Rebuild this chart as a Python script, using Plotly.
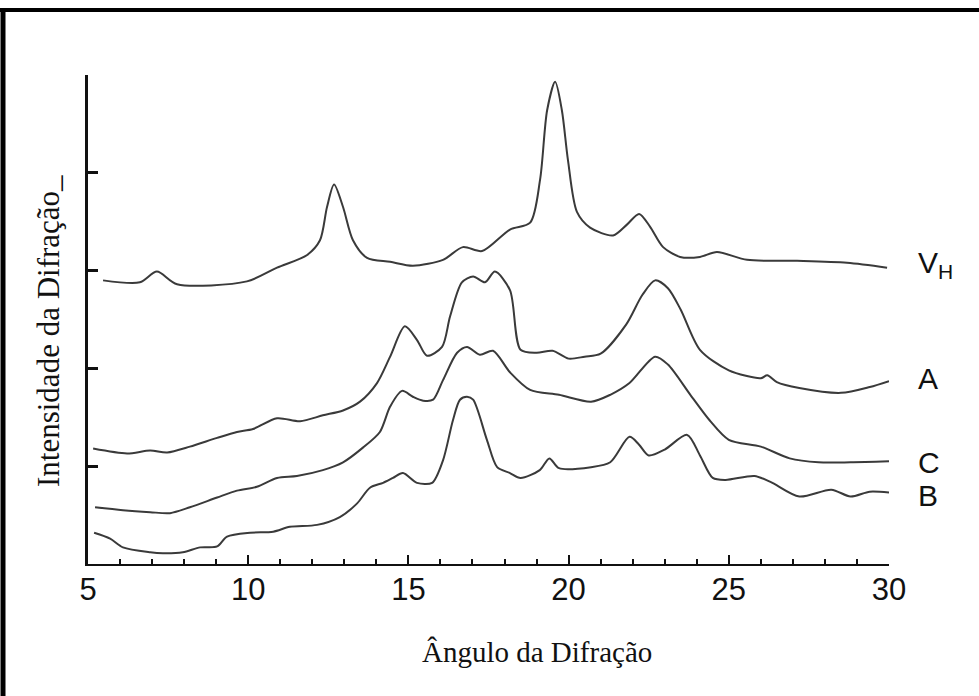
import plotly.graph_objects as go

# ---- data ----
vh_x = [5.47, 6.62, 7.15, 7.78, 9.96, 10.9, 11.84, 12.24, 12.46, 12.68, 12.96, 13.27, 13.71, 14.43, 15.14,
        16.08, 16.70, 17.30, 18.17, 18.80, 19.11, 19.33, 19.58, 19.79, 19.98, 20.26, 20.67, 21.39, 21.82,
        22.20, 22.54, 22.95, 23.48, 24.10, 24.63, 25.57, 27.13, 28.69, 29.94]
vh_y = [2.90, 2.88, 2.99, 2.86, 2.89, 3.03, 3.16, 3.31, 3.65, 3.88, 3.65, 3.31, 3.13, 3.09, 3.05,
        3.11, 3.24, 3.20, 3.42, 3.49, 3.93, 4.64, 4.93, 4.64, 4.13, 3.60, 3.44, 3.36, 3.47,
        3.58, 3.45, 3.24, 3.14, 3.14, 3.19, 3.11, 3.10, 3.08, 3.03]

a_x = [5.16, 6.22, 6.94, 7.47, 8.18, 9.03, 9.65, 10.15, 10.90, 11.62, 12.33, 12.96, 13.49, 14.02, 14.43,
       14.89, 15.27, 15.58, 16.05, 16.30, 16.67, 17.02, 17.39, 17.70, 18.17, 18.5, 19.0, 19.5, 20.0,
       20.5, 21.0, 21.8, 22.3, 22.7, 23.1, 23.5, 24.1, 25.0, 26.0, 26.2, 26.5, 27.2, 28.5, 29.4, 30.0]
a_y = [1.18, 1.13, 1.16, 1.14, 1.20, 1.29, 1.35, 1.38, 1.49, 1.46, 1.52, 1.57, 1.66, 1.85, 2.12,
       2.43, 2.29, 2.13, 2.22, 2.53, 2.88, 2.94, 2.88, 2.99, 2.80, 2.19, 2.16, 2.18, 2.10,
       2.12, 2.15, 2.45, 2.75, 2.90, 2.82, 2.60, 2.19, 1.98, 1.90, 1.93, 1.86, 1.80, 1.75, 1.81, 1.87]

c_x = [5.22, 6.09, 6.94, 7.56, 8.18, 9.03, 9.65, 10.27, 10.90, 11.52, 12.33, 12.96, 13.58, 14.11, 14.43,
       14.80, 15.14, 15.46, 15.77, 16.08, 16.52, 16.83, 17.23, 17.64, 18.17, 18.8, 19.7, 20.7, 21.3,
       21.9, 22.7, 23.1, 23.8, 24.4, 25.0, 26.0, 26.9, 27.8, 28.8, 30.0]
c_y = [0.58, 0.55, 0.53, 0.52, 0.58, 0.68, 0.75, 0.79, 0.88, 0.90, 0.96, 1.04, 1.19, 1.35, 1.61,
       1.77, 1.71, 1.67, 1.68, 1.88, 2.16, 2.22, 2.14, 2.18, 1.96, 1.78, 1.73, 1.66, 1.73,
       1.85, 2.12, 2.04, 1.73, 1.47, 1.27, 1.20, 1.08, 1.04, 1.04, 1.05]

b_x = [5.19, 5.69, 6.09, 6.94, 7.34, 7.96, 8.50, 9.03, 9.34, 10.06, 10.78, 11.30, 12.15, 12.86, 13.40,
       13.80, 14.21, 14.52, 14.83, 15.27, 15.74, 16.08, 16.39, 16.61, 16.83, 17.02, 17.45, 17.77, 18.17,
       18.5, 19.1, 19.4, 19.7, 20.7, 21.3, 21.9, 22.2, 22.5, 23.0, 23.7, 24.1, 24.5, 24.9, 25.8, 26.3,
       27.2, 28.2, 28.8, 29.4, 30.0]
b_y = [0.32, 0.26, 0.17, 0.12, 0.11, 0.12, 0.17, 0.18, 0.28, 0.32, 0.33, 0.38, 0.40, 0.48, 0.62,
       0.78, 0.83, 0.88, 0.93, 0.83, 0.83, 1.06, 1.47, 1.68, 1.71, 1.68, 1.27, 0.99, 0.93,
       0.88, 0.96, 1.08, 0.98, 0.99, 1.04, 1.30, 1.22, 1.11, 1.17, 1.32, 1.11, 0.88, 0.86, 0.90, 0.84,
       0.69, 0.76, 0.69, 0.74, 0.73]

curve_names = ["V<sub>H</sub>", "A", "C", "B"]
label_y_px = [264, 378, 462, 495]

x_tick_step = 5
x_minor_step = 1
y_tick_step = 1

x_title = "Ângulo da Difração"
y_title = "Intensidade da Difração_"

# ---- layout geometry (pixels) ----
W, H = 979, 696
L, R, T, B = 88, 889, 75, 564
pw, ph = R - L, B - T


def px_x(p):
    return (p - L) / pw


def px_y(p):
    return (B - p) / ph


line_style = dict(color="#3a3a3a", width=2, shape="spline", smoothing=0.8)

fig = go.Figure()
for xs, ys in [(vh_x, vh_y), (a_x, a_y), (c_x, c_y), (b_x, b_y)]:
    fig.add_trace(go.Scatter(x=xs, y=ys, mode="lines", line=line_style,
                             showlegend=False, hoverinfo="skip", cliponaxis=False))

fig.update_layout(
    width=W, height=H, autosize=False,
    margin=dict(l=L, r=W - R, t=T, b=H - B, pad=0),
    paper_bgcolor="white", plot_bgcolor="white",
    showlegend=False,
)

fig.update_xaxes(
    range=[5, 30], tickmode="linear", tick0=5, dtick=x_tick_step,
    ticks="inside", ticklen=9, tickwidth=2, tickcolor="#111",
    minor=dict(tickmode="linear", tick0=5, dtick=x_minor_step, ticks="inside",
               ticklen=5, tickwidth=2, tickcolor="#111", showgrid=False),
    showline=True, linecolor="#111", linewidth=2,
    showgrid=False, zeroline=False,
    tickfont=dict(family="Liberation Sans, Arial, sans-serif", size=31, color="#111"),
    ticklabelstandoff=-3,
)
fig.update_yaxes(
    range=[0, 5], tickmode="linear", tick0=0, dtick=y_tick_step, showticklabels=False,
    ticks="inside", ticklen=10, tickwidth=3, tickcolor="#111",
    showline=True, linecolor="#111", linewidth=3,
    showgrid=False, zeroline=False,
)

annotations = []
for name, py in zip(curve_names, label_y_px):
    annotations.append(dict(
        x=px_x(916), y=px_y(py), xref="paper", yref="paper",
        xanchor="left", yanchor="middle", showarrow=False, text=name,
        font=dict(family="Liberation Sans, Arial, sans-serif", size=30, color="#111"),
    ))
annotations.append(dict(
    x=px_x(537), y=px_y(652), xref="paper", yref="paper",
    xanchor="center", yanchor="middle", showarrow=False, text=x_title,
    font=dict(family="Liberation Serif, Times New Roman, serif", size=29, color="#111"),
))
annotations.append(dict(
    x=px_x(48), y=px_y(331), xref="paper", yref="paper",
    xanchor="center", yanchor="middle", showarrow=False, text=y_title, textangle=-90,
    font=dict(family="Liberation Serif, Times New Roman, serif", size=31, color="#111"),
))
fig.update_layout(annotations=annotations)

# frame lines (top and left) of the picture
fig.add_shape(type="line", xref="paper", yref="paper",
              x0=px_x(0), x1=px_x(W), y0=px_y(10), y1=px_y(10),
              line=dict(color="black", width=4))
fig.add_shape(type="line", xref="paper", yref="paper",
              x0=px_x(3), x1=px_x(3), y0=px_y(8), y1=px_y(H),
              line=dict(color="black", width=5))

fig.write_html("out.html")
